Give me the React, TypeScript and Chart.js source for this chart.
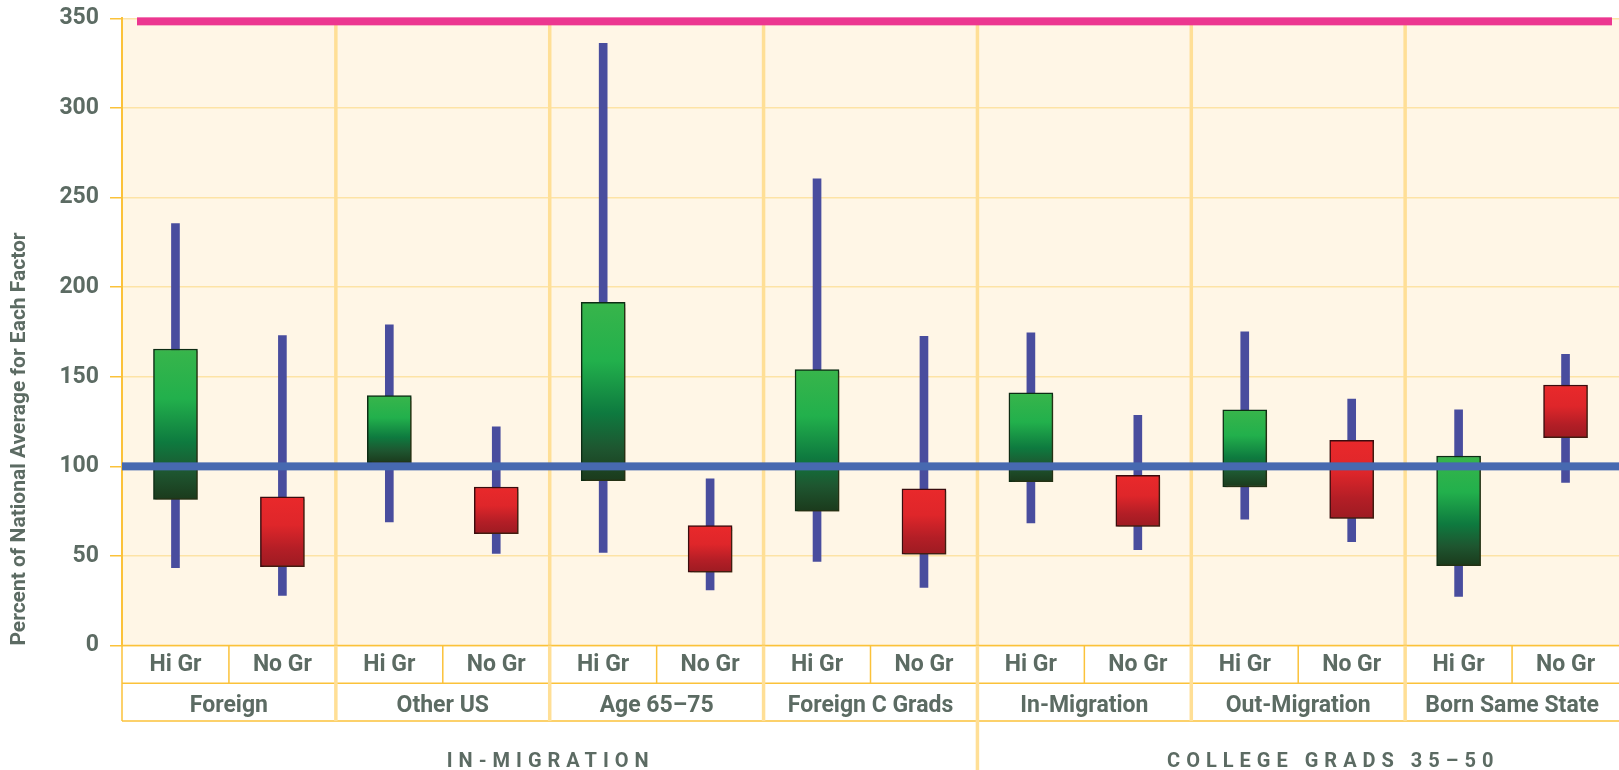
import React, { useEffect, useRef } from "react";
import { Chart, registerables } from "chart.js";

Chart.register(...registerables);

// ---------- DATA ----------
const groups = ["Foreign", "Other US", "Age 65–75", "Foreign C Grads", "In-Migration", "Out-Migration", "Born Same State"];
const subLabels = ["Hi Gr", "No Gr"];
const sectionNames = ["IN-MIGRATION", "COLLEGE GRADS 35–50"];
const sectionGroupCounts = [4, 3];
const yTickValues = [0, 50, 100, 150, 200, 250, 300, 350];
const yTitle = "Percent of National Average for Each Factor";

// order: Foreign Hi, Foreign No, Other US Hi, Other US No, ...
const whiskerHigh = [235.5, 173, 179, 122, 336, 93, 260.5, 172.5, 174.5, 128.5, 175, 137.5, 131.5, 162.5];
const whiskerLow = [43.5, 28, 69, 51.5, 52, 31, 47, 32.5, 68.5, 53.5, 70.5, 58, 27.5, 91];
const boxHigh = [165.5, 83, 139.5, 88.5, 191.5, 67, 154, 87.5, 141, 95, 131.5, 114.5, 105.8, 145.4];
const boxLow = [81.5, 44, 102, 62.5, 92, 41, 75, 51, 91.5, 66.5, 88.5, 71, 44.6, 116];

const nationalAverage = 100;
const topReference = 348.3;

// ---------- STYLE ----------
const FONT = 'Roboto, "Open Sans", sans-serif';
const TEXT = "#5c6b63";
const ORANGE = "#fbc23a";
const LIGHT_ORANGE = "#ffdf96";
const GRID = "#fde3a6";
const BG = "#fff6e6";

const categories = groups.flatMap(() => subLabels);

function boxFill(c: any) {
  const chart = c.chart;
  const i = c.dataIndex;
  const hi = i % 2 === 0;
  if (!chart.chartArea || !chart.scales.y) return hi ? "#22b04b" : "#d8242a";
  const y = chart.scales.y;
  const top = y.getPixelForValue(boxHigh[i]);
  const bot = y.getPixelForValue(boxLow[i]);
  const g = chart.ctx.createLinearGradient(0, top, 0, bot);
  if (hi) {
    g.addColorStop(0, "#38b54b");
    g.addColorStop(0.33, "#22b04c");
    g.addColorStop(0.62, "#0e7a3f");
    g.addColorStop(0.82, "#1e5630");
    g.addColorStop(1, "#1b3a1c");
  } else {
    g.addColorStop(0, "#e9292b");
    g.addColorStop(0.4, "#df262a");
    g.addColorStop(0.75, "#b31e26");
    g.addColorStop(1, "#9d1b22");
  }
  return g;
}

const decorPlugin = {
  id: "decor",
  beforeDraw(chart: any) {
    const { ctx, chartArea } = chart;
    if (!chartArea) return;
    ctx.save();
    ctx.fillStyle = BG;
    ctx.fillRect(chartArea.left, chartArea.top, chartArea.right - chartArea.left, chartArea.bottom - chartArea.top);
    ctx.restore();
  },
  beforeDatasetsDraw(chart: any) {
    const { ctx, chartArea, scales } = chart;
    const x = scales.x;
    const slot = x.getPixelForValue(1) - x.getPixelForValue(0);
    ctx.save();
    ctx.strokeStyle = LIGHT_ORANGE;
    ctx.lineWidth = 3.5;
    for (let g = 1; g < groups.length; g++) {
      const px = x.getPixelForValue(g * 2) - slot / 2;
      ctx.beginPath();
      ctx.moveTo(px, chartArea.top);
      ctx.lineTo(px, chartArea.bottom);
      ctx.stroke();
    }
    ctx.restore();
  },
  beforeDatasetDraw(chart: any, args: any) {
    if (args.index === 0) {
      const ctx = chart.ctx;
      ctx.save();
      ctx.shadowColor = "rgba(80,60,20,0.35)";
      ctx.shadowOffsetX = 2;
      ctx.shadowOffsetY = 2;
      ctx.shadowBlur = 1;
    }
  },
  afterDatasetDraw(chart: any, args: any) {
    if (args.index === 0) chart.ctx.restore();
  },
  afterDatasetsDraw(chart: any) {
    const { ctx, chartArea, scales } = chart;
    const y = scales.y;
    ctx.save();
    const yb = y.getPixelForValue(nationalAverage);
    ctx.fillStyle = "#4769b0";
    ctx.fillRect(chartArea.left, yb - 4, chartArea.right - chartArea.left, 8);
    const yp = y.getPixelForValue(topReference);
    ctx.fillStyle = "#ec3790";
    ctx.fillRect(chartArea.left + 15, yp - 4, chartArea.right - chartArea.left - 22, 8);
    ctx.restore();
  },
  afterDraw(chart: any) {
    const { ctx, chartArea, scales } = chart;
    const x = scales.x;
    const slot = x.getPixelForValue(1) - x.getPixelForValue(0);
    const left = chartArea.left;
    const right = chartArea.right;
    const r1 = chartArea.bottom;
    const r2 = r1 + 37.7;
    const r3 = r1 + 75.4;
    const bottomEdge = chart.height;
    ctx.save();
    ctx.strokeStyle = ORANGE;
    ctx.lineWidth = 1.5;
    [r1, r2, r3].forEach((yy) => {
      ctx.beginPath();
      ctx.moveTo(left, yy);
      ctx.lineTo(right, yy);
      ctx.stroke();
    });
    for (let i = 1; i < categories.length; i += 2) {
      const px = x.getPixelForValue(i) - slot / 2;
      ctx.beginPath();
      ctx.moveTo(px, r1);
      ctx.lineTo(px, r2);
      ctx.stroke();
    }
    ctx.beginPath();
    ctx.moveTo(left, r1);
    ctx.lineTo(left, r3);
    ctx.stroke();
    ctx.strokeStyle = LIGHT_ORANGE;
    ctx.lineWidth = 3.5;
    const sectionBoundary = sectionGroupCounts[0];
    for (let g = 1; g < groups.length; g++) {
      const px = x.getPixelForValue(g * 2) - slot / 2;
      ctx.beginPath();
      ctx.moveTo(px, r1);
      ctx.lineTo(px, g === sectionBoundary ? bottomEdge : r3);
      ctx.stroke();
    }
    ctx.fillStyle = TEXT;
    ctx.font = `bold 23px ${FONT}`;
    ctx.textAlign = "center";
    ctx.textBaseline = "middle";
    groups.forEach((g, gi) => {
      const cx = (x.getPixelForValue(gi * 2) + x.getPixelForValue(gi * 2 + 1)) / 2;
      ctx.fillText(g, cx, (r2 + r3) / 2 + 4);
    });
    ctx.font = `bold 20px ${FONT}`;
    (ctx as any).letterSpacing = "6px";
    let start = 0;
    sectionNames.forEach((name, si) => {
      const count = sectionGroupCounts[si];
      const a = x.getPixelForValue(start * 2) - slot / 2;
      const b = x.getPixelForValue((start + count) * 2 - 1) + slot / 2;
      const shift = si === 1 ? 32 : -2;
      ctx.fillText(name, (a + b) / 2 + shift + 3, 762);
      start += count;
    });
    ctx.restore();
  },
};

export default function App() {
  const ref = useRef<HTMLCanvasElement | null>(null);
  useEffect(() => {
    if (!ref.current) return;
    const chart = new Chart(ref.current, {
      type: "bar",
      data: {
        labels: categories,
        datasets: [
          {
            label: "Middle range",
            data: boxLow.map((l, i) => [l, boxHigh[i]]) as any,
            backgroundColor: boxFill as any,
            borderColor: (c: any) => (c.dataIndex % 2 === 0 ? "#0d2c14" : "#3a0c0e"),
            borderWidth: 1.5,
            borderSkipped: false,
            barThickness: 44,
            grouped: false,
            order: 0,
          },
          {
            label: "Range",
            data: whiskerLow.map((l, i) => [l, whiskerHigh[i]]) as any,
            backgroundColor: "#494d9e",
            borderWidth: 0,
            barThickness: 8,
            grouped: false,
            order: 1,
          },
        ],
      },
      options: {
        animation: false,
        responsive: true,
        maintainAspectRatio: false,
        layout: { padding: { top: 18.3, left: 0, right: 0, bottom: 0 } },
        plugins: { legend: { display: false }, tooltip: { enabled: false }, title: { display: false } },
        scales: {
          x: {
            type: "category",
            offset: true,
            grid: { display: false, drawTicks: false },
            border: { display: false },
            ticks: {
              color: TEXT,
              font: { family: FONT, size: 23, weight: "bold" },
              padding: 6,
              maxRotation: 0,
              autoSkip: false,
            },
            afterFit: (s: any) => {
              s.height = 124.4;
              s.paddingLeft = 0;
              s.paddingRight = 0;
            },
          },
          y: {
            min: 0,
            max: 350,
            afterBuildTicks: (s: any) => {
              s.ticks = yTickValues.map((v) => ({ value: v }));
            },
            grid: { color: GRID, tickColor: ORANGE, lineWidth: 1.5, tickLength: 12 },
            border: { display: true, color: ORANGE, width: 2 },
            ticks: {
              color: TEXT,
              font: { family: FONT, size: 23, weight: "bold" },
              padding: 11,
            },
            title: {
              display: true,
              text: yTitle,
              align: "start",
              color: TEXT,
              font: { family: FONT, size: 21, weight: "bold" },
              padding: { top: 7, bottom: 0 },
            },
            afterFit: (s: any) => {
              s.width = 122;
              s.paddingTop = 0;
              s.paddingBottom = 0;
            },
          },
        },
      },
      plugins: [decorPlugin],
    });
    return () => chart.destroy();
  }, []);
  return (
    <div style={{ position: "fixed", left: 0, top: 0, width: 1619, height: 770, background: "#fff" }}>
      <canvas ref={ref} />
    </div>
  );
}
